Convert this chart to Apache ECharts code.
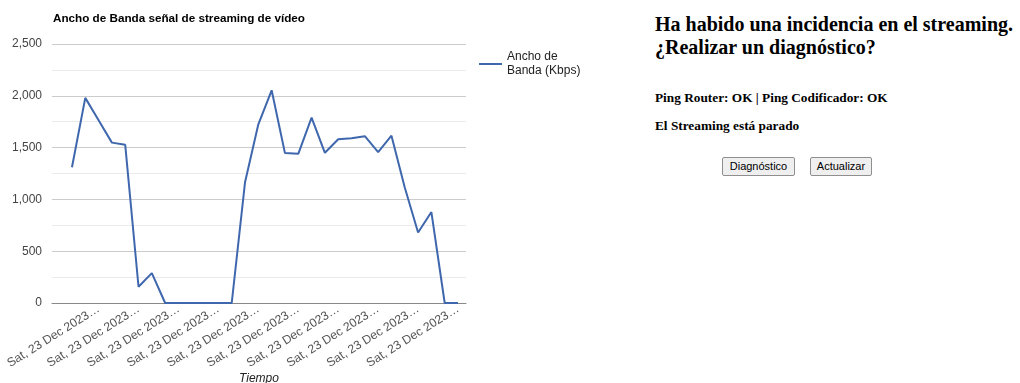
<!DOCTYPE html>
<html>
<head>
<meta charset="utf-8">
<script src="https://cdn.jsdelivr.net/npm/echarts@6/dist/echarts.min.js"></script>
<style>
  html, body { margin: 0; padding: 0; background: #fff; width: 1020px; height: 383px; overflow: hidden; }
  #chart { position: absolute; left: 0; top: 0; width: 610px; height: 383px; }
  #panel { position: absolute; left: 655px; top: 0; width: 365px; font-family: "Liberation Serif", "Times New Roman", serif; color: #000; }
  #panel h2 { position: absolute; left: 0; top: 13px; margin: 0; font-size: 20px; line-height: 23px; font-weight: bold; white-space: nowrap; }
  #panel h5 { position: absolute; left: 0; margin: 0; font-size: 13.3px; line-height: 16px; font-weight: bold; white-space: nowrap; }
  .btn { position: absolute; top: 157px; height: 19px; box-sizing: border-box; padding: 0; text-align: center; font-family: "Liberation Sans", Arial, sans-serif; font-size: 11px; line-height: 17px; background: #efefef; border: 1px solid #8f8f8f; border-radius: 2px; color: #000; }
</style>
</head>
<body>
<div id="chart"></div>
<div id="panel">
  <h2>Ha habido una incidencia en el streaming.<br>¿Realizar un diagnóstico?</h2>
  <h5 style="top:90px">Ping Router: OK | Ping Codificador: OK</h5>
  <h5 style="top:118px">El Streaming está parado</h5>
</div>
<button class="btn" style="left:722px;width:73px">Diagnóstico</button>
<button class="btn" style="left:810px;width:62px">Actualizar</button>
<script>
// Data
const chartTitle = 'Ancho de Banda señal de streaming de vídeo';
const seriesName = 'Ancho de Banda (Kbps)';
const bandwidth = [1310, 1980, 1765, 1548, 1527, 157, 288, 0, 0, 0,
                   0, 0, 0, 1165, 1725, 2053, 1447, 1440, 1790, 1450,
                   1580, 1590, 1610, 1457, 1615, 1115, 680, 878, 0, 0];
const tickIndices = [2, 5, 8, 11, 14, 17, 20, 23, 26, 29];
const tickLabels = ['Sat, 23 Dec 2023…', 'Sat, 23 Dec 2023…', 'Sat, 23 Dec 2023…', 'Sat, 23 Dec 2023…',
                    'Sat, 23 Dec 2023…', 'Sat, 23 Dec 2023…', 'Sat, 23 Dec 2023…', 'Sat, 23 Dec 2023…',
                    'Sat, 23 Dec 2023…', 'Sat, 23 Dec 2023…'];
const yTicks = [0, 500, 1000, 1500, 2000, 2500];

const chart = echarts.init(document.getElementById('chart'), null, { renderer: 'canvas', width: 610, height: 383 });
const font = '"Liberation Sans", Arial, sans-serif';
chart.setOption({
  animation: false,
  textStyle: { fontFamily: font },
  title: {
    text: chartTitle, left: 53, top: 13, padding: 0,
    textStyle: { fontSize: 11.7, fontWeight: 'bold', color: '#000', fontFamily: font }
  },
  legend: {
    left: 479, top: 43, padding: 0, orient: 'vertical',
    itemWidth: 23, itemHeight: 14,
    data: [{ name: seriesName, icon: 'path://M0,0 L23,0 L23,2 L0,2 Z' }],
    formatter: () => 'Ancho de\nBanda (Kbps)',
    textStyle: { fontSize: 12, color: '#222', lineHeight: 14, padding: [14, 0, 0, 0], fontFamily: font }
  },
  grid: { left: 52, width: 414, top: 44, height: 259, containLabel: false, outerBoundsMode: 'none' },
  xAxis: {
    type: 'value', min: -1.5, max: 29.6,
    name: 'Tiempo', nameLocation: 'middle', nameGap: 70, nameMoveOverlap: false,
    nameTextStyle: { fontStyle: 'italic', fontSize: 12, color: '#222', fontFamily: font },
    axisLine: { show: true, onZero: true, lineStyle: { color: '#888', width: 1 } },
    axisTick: { show: false },
    splitLine: { show: false },
    axisLabel: {
      customValues: tickIndices, rotate: 32, margin: 5,
      fontSize: 12.2, color: '#555', fontFamily: font,
      formatter: (v) => { const k = tickIndices.indexOf(Math.round(v)); return k >= 0 ? tickLabels[k] : ''; }
    }
  },
  yAxis: {
    type: 'value', min: yTicks[0], max: yTicks[yTicks.length - 1], interval: 500,
    axisLine: { show: false }, axisTick: { show: false },
    axisLabel: { fontSize: 12, color: '#444', margin: 10, fontFamily: font,
      formatter: (v) => v.toLocaleString('en-US') },
    splitLine: { show: true, lineStyle: { color: '#cccccc', width: 1 } },
    minorTick: { show: false, splitNumber: 2 },
    minorSplitLine: { show: true, lineStyle: { color: '#ebebeb', width: 1 } }
  },
  series: [{
    name: seriesName, type: 'line',
    data: bandwidth.map((v, i) => [i, v]),
    symbol: 'none', showSymbol: false,
    lineStyle: { color: '#3f67ad', width: 2 },
    itemStyle: { color: '#3f67ad' }
  }]
});
</script>
</body>
</html>
